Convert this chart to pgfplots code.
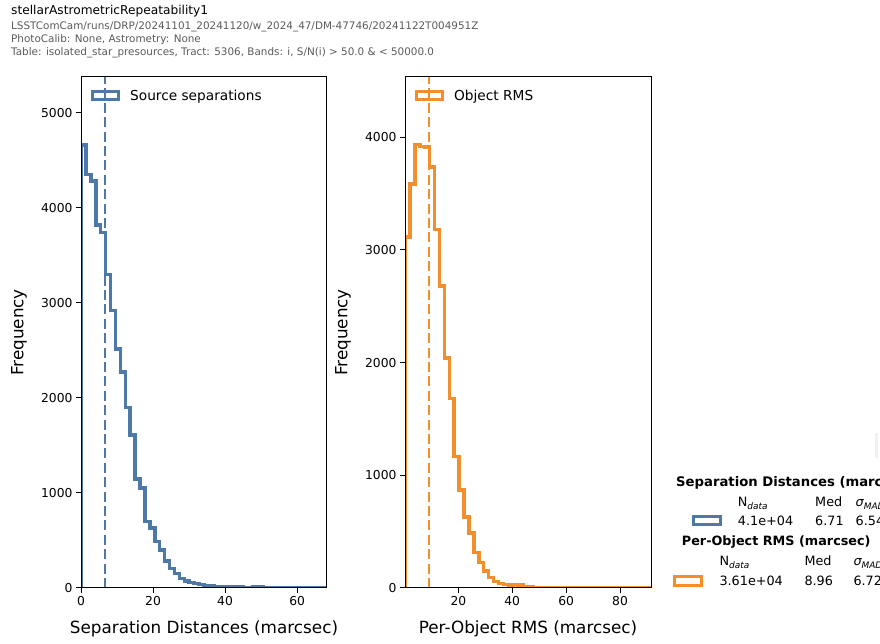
\documentclass[border=0pt]{standalone}
\usepackage{fontspec}
\setmainfont{DejaVu Sans}
\usepackage{pgfplots}
\pgfplotsset{compat=1.18}
\definecolor{cblue}{RGB}{78,121,167}
\definecolor{corange}{RGB}{242,142,43}
\definecolor{subgray}{RGB}{90,90,90}
\pgfplotsset{hstyle/.style={
  scale only axis, width=246pt, height=511pt, axis on top,
  axis line style={line width=1pt, black},
  every tick/.style={line width=1pt, black},
  tick align=outside, major tick length=5pt, tick pos=left,
  ticklabel style={font=\fontsize{12.3}{14}\selectfont},
  /pgf/number format/assume math mode=true,
  /pgf/number format/1000 sep={},
  label style={font=\fontsize{16.8}{19}\selectfont},
  xlabel style={at={(axis description cs:0.5,-0.09)}, anchor=base},
  ylabel style={at={(axis description cs:-0.2346,0.5)}, anchor=base},
  ymin=0,
  legend style={draw=none, fill=none, font=\fontsize{13.7}{15}\selectfont,
    at={(axis description cs:0,1)}, anchor=north west, xshift=7pt, yshift=-8.5pt,
    /tikz/every odd column/.append style={column sep=8pt}},
  legend cell align=left,
  legend image code/.code={\draw[#1, line width=3pt, solid] (0pt,-4pt) rectangle (26pt,4pt);},
}}
\begin{document}
\begin{tikzpicture}[x=1pt,y=1pt]
\useasboundingbox (0,0) rectangle (880,644);
\clip (0,0) rectangle (880,644);
\node[anchor=base west, inner sep=0pt, font=\fontsize{12.2}{14}\selectfont] at (11,629.3) {stellarAstrometricRepeatability1};
\node[anchor=base west, inner sep=0pt, text=subgray, font=\fontsize{10.4}{12}\selectfont] at (11,614.7) {LSSTComCam/runs/DRP/20241101\_20241120/w\_2024\_47/DM-47746/20241122T004951Z};
\node[anchor=base west, inner sep=0pt, text=subgray, font=\fontsize{10.4}{12}\selectfont] at (11,601.3) {PhotoCalib: None, Astrometry: None};
\node[anchor=base west, inner sep=0pt, text=subgray, font=\fontsize{10.4}{12}\selectfont] at (11,588.3) {Table: isolated\_star\_presources, Tract: 5306, Bands: i, S/N(i) \textgreater{} 50.0 \& \textless{} 50000.0};

\begin{axis}[hstyle, at={(81pt,56pt)}, anchor=south west,
  xmin=0, xmax=68.3, ymax=5376,
  xtick={0,20,40,60}, ytick={0,1000,2000,3000,4000,5000},
  xlabel={Separation Distances (marcsec)}, ylabel={Frequency}]
\addplot[cblue, line width=3.5pt, const plot, line join=miter] coordinates {
(0,0) (0,4660) (1.366,4350) (2.732,4280) (4.098,3820) (5.464,3740) (6.83,3300) (8.196,2920) (9.562,2515) (10.928,2275) (12.294,1900) (13.66,1607) (15.026,1145) (16.392,1050) (17.758,700) (19.124,630) (20.49,487) (21.856,398) (23.222,286) (24.588,207) (25.954,153) (27.32,100) (28.686,76) (30.052,58) (31.418,46) (32.784,36) (34.15,28) (35.516,22) (36.882,18) (38.248,15) (39.614,13) (40.98,11) (42.346,9) (43.712,8) (45.078,7) (46.444,6) (47.81,12) (49.176,8) (50.542,5) (51.908,4) (53.274,4) (54.64,3) (56.006,3) (57.372,3) (58.738,2) (60.104,2) (61.47,2) (62.836,2) (64.202,1) (65.568,1) (66.934,1) (68.3,1) (68.3,0)};
\addlegendentry{Source separations}
\addplot[cblue, line width=2pt, dash pattern=on 10pt off 4.4pt, forget plot] coordinates {(6.71,0) (6.71,5376)};
\end{axis}

\begin{axis}[hstyle, at={(405pt,56pt)}, anchor=south west,
  xmin=0.2, xmax=91.5, ymax=4533,
  xtick={20,40,60,80}, ytick={0,1000,2000,3000,4000},
  xlabel={Per-Object RMS (marcsec)}, ylabel={Frequency}]
\addplot[corange, line width=3.5pt, const plot, line join=miter] coordinates {
(0.2,0) (0.2,3113) (2.026,3583) (3.852,3935) (5.678,3915) (7.504,3910) (9.33,3734) (11.156,3180) (12.982,2680) (14.808,2040) (16.634,1682) (18.46,1165) (20.286,869) (22.112,632) (23.938,490) (25.764,313) (27.59,224) (29.416,151) (31.242,92) (33.068,58) (34.894,40) (36.72,32) (38.546,26) (40.372,30) (42.198,28) (44.024,14) (45.85,9) (47.676,6) (49.502,5) (51.328,4) (53.154,4) (54.98,3) (56.806,3) (58.632,2) (60.458,2) (62.284,2) (64.11,1) (65.936,1) (67.762,1) (69.588,1) (71.414,1) (73.24,1) (75.066,1) (76.892,1) (78.718,1) (80.544,1) (82.37,1) (84.196,1) (86.022,1) (87.848,1) (89.674,1) (91.5,1) (91.5,0)};
\addlegendentry{Object RMS}
\addplot[corange, line width=2pt, dash pattern=on 10pt off 4.4pt, forget plot] coordinates {(8.96,0) (8.96,4533)};
\end{axis}

\fill[gray!12] (875,186) rectangle (878,211);
\begin{scope}[every node/.style={anchor=base west, inner sep=0pt, font=\fontsize{12.8}{15}\selectfont}]
\node[font=\fontsize{13.2}{15}\selectfont\bfseries] at (676,157.5) {Separation Distances (marcsec)};
\node at (737.7,137.3) {N\textsubscript{\itshape data}};
\node at (815,137.3) {Med};
\node at (855.5,137.3) {{\itshape σ}\textsubscript{\itshape MAD}};
\draw[cblue, line width=3pt] (693.8,119.5) rectangle (720.8,127.5);
\node at (737.7,118.3) {4.1e+04};
\node at (815,118.3) {6.71};
\node at (855.5,118.3) {6.54};
\node[font=\fontsize{12.8}{15}\selectfont\bfseries] at (681.7,98) {Per-Object RMS (marcsec)};
\node at (719.3,78) {N\textsubscript{\itshape data}};
\node at (804.3,78) {Med};
\node at (853.3,78) {{\itshape σ}\textsubscript{\itshape MAD}};
\draw[corange, line width=3pt] (674.8,58.5) rectangle (701.8,67.5);
\node at (719.3,58) {3.61e+04};
\node at (804.3,58) {8.96};
\node at (853.3,58) {6.72};
\end{scope}
\end{tikzpicture}
\end{document}
